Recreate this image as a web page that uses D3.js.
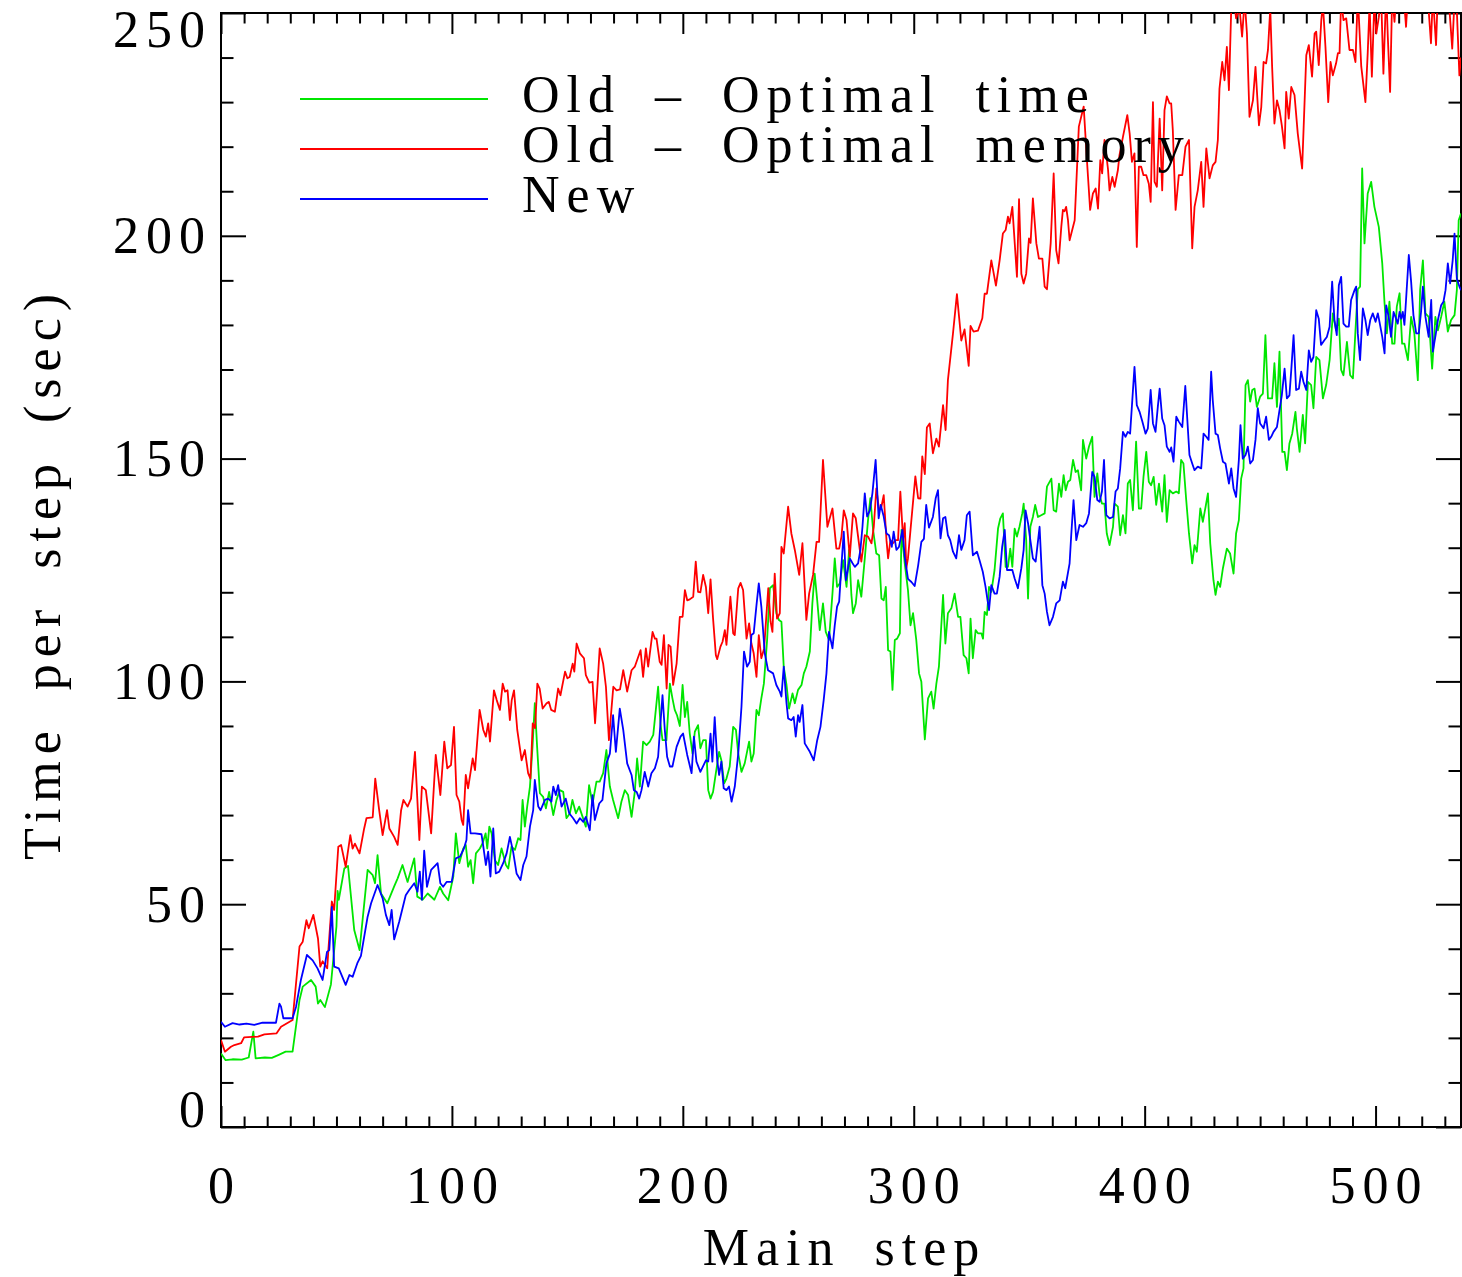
<!DOCTYPE html>
<html>
<head>
<meta charset="utf-8">
<script src="https://cdn.jsdelivr.net/npm/d3@7"></script>
<style>
  body { margin: 0; background: #fff; }
  svg { display: block; }
  .lab { font-family: "Liberation Serif", "Times New Roman", serif; font-size: 52px; fill: #000; letter-spacing: 7px; word-spacing: 14px; }
  .tick line { stroke: #000; stroke-width: 2; }
</style>
</head>
<body>
<div id="chart"></div>
<script>
// values: [main step, time per step in sec]
var greenSeries = [[0,16.5],[2,15],[5,15.2],[9,15.1],[12,15.6],[14,21.4],[15,15.4],[19,15.6],[22,15.5],[25,16.2],[28,16.9],[31,16.9],[34,28.5],[35.4,31.5],[39,33],[41,31.5],[42,27.7],[43,28.5],[45,26.9],[47.6,32],[50,45],[50.5,53],[51,51],[53.4,58],[55,58.6],[57.7,44.2],[60,39.7],[63.5,57.7],[65.7,56.5],[66.7,54.7],[67.8,61],[69.3,52.4],[72,50.2],[75,54],[76.5,55.8],[78.6,58.8],[80.8,55],[83.7,60.3],[85,51.7],[87.3,51],[89.5,52.4],[92.4,51],[94.8,53.9],[96.2,52.4],[98.4,50.9],[100.6,56.2],[101.7,65.9],[103.2,59.2],[104.9,62.5],[106,63.3],[107,58.4],[108.1,59.9],[109.2,54.7],[110.4,61.4],[112.1,62.5],[113.3,63.7],[114.6,65.9],[115.3,62.5],[116.2,67.4],[117.2,65.9],[118.6,59.9],[120,58.8],[121.5,62.5],[123.4,58.8],[124.4,58],[125.8,62.9],[127.3,62.2],[128.7,64.8],[129.7,64.4],[130.6,73.4],[131.6,67.4],[132.6,71.9],[133.8,76.4],[134.9,85.3],[135.9,95.1],[136.9,85.3],[138.1,74.9],[139.5,74.1],[140.7,71.5],[142.1,75.2],[143.9,70],[145.3,73.4],[146.7,75.6],[148.2,75.2],[149.6,69.3],[151.1,70.4],[152.2,73.4],[153.7,70.4],[155.1,71.9],[156.6,69.6],[158,67.4],[159.4,76.7],[160.9,72.6],[162.6,77.5],[164,77.5],[165.5,79.4],[166.9,84.6],[168.4,76.4],[169.8,73.4],[172,69.3],[173.4,73],[174.9,75.6],[176.3,74.5],[177.8,69.6],[179.2,75.2],[180.2,82.7],[181.4,76.4],[182.8,86.5],[184.3,85.7],[185.7,86.5],[187.2,88],[188.3,93.6],[189.3,98.8],[190.3,90.6],[191.2,86.8],[192.9,86.8],[194.4,99.5],[195.5,96.2],[196.5,93.6],[197.5,92.4],[198.7,90],[199.9,99.2],[200.9,92],[201.9,95.4],[203,88.3],[204.2,83.8],[205.2,88.7],[206.6,90.2],[207.6,85],[208.8,86.8],[210,86.8],[211,75.6],[212,73.7],[213.1,75.2],[214.3,79.4],[215.7,84.2],[216.7,82.3],[217.9,77.1],[218.9,78.2],[220.3,80.9],[221.8,89.8],[223,89.1],[224,83.8],[225.4,79.7],[226.8,81.6],[228.7,86.5],[229.7,82],[230.7,83.8],[231.9,93.6],[232.9,92.4],[234,96.2],[235.1,99.5],[236.5,109.3],[237.7,120.9],[239.1,121.6],[240.5,115.3],[241.6,113.8],[242.7,113.4],[243.7,103.3],[244.9,99.2],[246,93.9],[247.5,97.3],[248.5,95.1],[249.9,98.1],[251.4,99.2],[252.4,101.8],[253.5,103.3],[255,106.7],[256.1,117.5],[257.1,124.2],[258.2,118.2],[259.3,111.5],[260.7,117.5],[261.9,111.1],[263.3,109.3],[264.8,119.7],[265.8,127.6],[266.8,121.2],[268,122],[269.4,127.2],[270.9,121.2],[272,129.5],[273,119.4],[273.7,115.3],[274.9,117.5],[275.9,122.7],[277.3,119],[278.8,127.6],[280.2,136.2],[281.2,141.1],[282.4,134],[283.8,128.7],[285,128.3],[286,118.6],[287,118.2],[287.9,121.2],[288.9,107],[289.9,106.7],[290.8,98.1],[291.8,109.3],[292.8,109.6],[294,110.8],[294.7,134],[296.1,126.5],[297.5,120.5],[298.6,112.6],[299.7,115.3],[301.1,109.3],[302.3,101.8],[303.3,99.9],[304.8,87],[306.2,96.2],[307.6,97.7],[308.6,93.9],[309.8,99.5],[310.9,103.3],[312.7,119.4],[313.7,108.5],[314.8,115.3],[316.3,116.4],[317.7,119.7],[319.2,114.5],[320.2,114.5],[321.6,105.9],[322.8,105.2],[323.8,101.8],[324.6,114.1],[325.6,105.2],[326.8,111.5],[327.8,110.8],[329.3,110.8],[330,109.6],[330.7,115.6],[331.7,114.9],[332.6,121.2],[333.6,120.1],[335,125],[336.5,134.3],[337.5,136.6],[338.6,137.7],[339.8,125.7],[340.8,125.7],[341.8,129.8],[342.7,125.7],[343.7,134.3],[344.7,132.5],[345.8,134.7],[347,137.7],[347.6,139.9],[348.7,131.7],[349.5,118.6],[350.5,134.7],[351.6,136.9],[352.6,139.6],[353.8,136.9],[355.2,137.3],[356.7,137.7],[357.7,143.7],[359.6,145.5],[360.6,138.4],[361.7,138.1],[362.9,144.4],[363.9,141.4],[364.9,146.3],[365.8,142.9],[366.8,144.8],[367.8,145.2],[369,149.7],[370.1,147],[371.1,147.4],[372.5,142.9],[373.3,154.2],[374.7,150],[375.9,152.7],[377.3,154.9],[378.3,141.4],[379.5,146.7],[380.5,141.8],[381.5,139.9],[382.6,139.9],[383.6,133.2],[384.8,130.6],[386.3,134.7],[387,139.9],[388.4,139.2],[389.4,132.8],[390.6,137.3],[391.7,133.2],[392.7,144.4],[393.7,145.2],[394.9,138.4],[396.3,153.8],[397.5,138.8],[398.5,138.8],[399.5,145.9],[400.7,151.5],[401.8,144.8],[402.8,144],[403.9,145.9],[405,139.6],[406.2,144.4],[407.6,138.1],[408.6,146.3],[409.6,135.8],[410.8,142.9],[412.2,142.2],[413.7,142.6],[414.8,142.2],[415.8,149.7],[416.8,148.9],[418,140.7],[419.2,133.2],[420.6,126.5],[421.6,130.6],[422.6,129.1],[424.1,138.8],[425.2,135.8],[426.4,139.2],[427.4,142.2],[428.4,131],[429.8,122.7],[430.7,119.4],[431.7,122.4],[432.7,121.2],[433.9,125.4],[435.6,129.8],[437,128.7],[438.5,124.2],[439.6,133.2],[440.8,136.2],[441.8,145.5],[442.8,147.8],[443.7,166.5],[444.7,167.6],[445.7,162.8],[446.6,165.4],[447.6,165.7],[448.6,161.6],[450,163.9],[451.2,164.6],[452.3,177.7],[453.4,163.5],[454.4,163.5],[455.2,163.5],[456.2,171.4],[457.3,161.6],[458.4,174],[459.6,151.5],[460.6,151.5],[461.6,147.4],[462.7,153.4],[463.9,155.6],[465.3,160.5],[465.9,156.8],[467.1,151.5],[468.5,159.8],[469.5,153.4],[470.7,167.2],[472.1,166.5],[473.1,161.3],[474.3,172.8],[475.7,172.1],[477.2,163.5],[478.6,166.5],[480.1,172.1],[481.5,182.6],[482.9,178.8],[484.1,181.4],[485.1,169.9],[486.1,168.7],[487.6,176.2],[489,168.7],[490.2,168],[491.3,178.8],[492.3,188],[493.3,188.6],[494.2,215.1],[495.2,198.3],[496.6,209.5],[498.1,212.1],[499.5,206.5],[501.4,202],[502.9,193.8],[503.9,184.8],[504.9,178.1],[506,185.2],[507.2,175.8],[508.2,175.8],[509.2,184.1],[510.4,187.1],[511.5,175.8],[512.5,175.8],[514,172.1],[515.4,181.8],[516.8,178.1],[518.3,167.6],[519.3,187.8],[520.5,194.5],[521.6,182.6],[523,181.8],[524.5,170.2],[525.9,181.8],[527,178.8],[528.4,181.8],[529.8,185.2],[531.3,178.5],[532.7,181.1],[534.2,182.2],[535.2,187.8],[536,203.5],[537,205]];

var redSeries = [[0,19.5],[1.7,16.9],[4.3,18],[5.8,18.4],[8.7,18.8],[10,20.1],[16,20.3],[18.8,20.8],[24,21],[26,22.5],[31,24],[34,40.5],[35.4,41.6],[37,46.4],[38,44.6],[40,47.6],[42,42.3],[43,36],[44,37.2],[46,35.6],[46.5,39.7],[48,50.6],[49,48.7],[50.8,62.9],[52,63.3],[54,58.4],[56,65.5],[57,62.5],[58,63.6],[60,61.4],[62,67],[63,69.3],[65.7,69.5],[66.8,78.2],[68.5,71.1],[70,65.5],[71.9,71.1],[72.9,67],[75,65.1],[76.5,63.3],[78,71.1],[79,73.4],[80.8,71.9],[82.3,73.7],[84,84.2],[85.9,64.4],[87,76.4],[88.7,75.6],[91,65.9],[93,83.5],[95,74.5],[96.7,86.5],[98,80.5],[99.6,81.2],[100.9,89.8],[102,74.5],[103.2,73],[104.2,68.9],[104.9,67.8],[106,79],[107,76],[109,82.7],[110,80.1],[112,93.6],[113.6,89.1],[114.7,87.6],[115.7,90.6],[116.5,86.5],[118.2,98],[119.4,95.8],[120.8,93.6],[122,99.5],[123,97.7],[124.1,98],[125.1,91.3],[125.9,95.8],[126.9,98],[128.3,89.1],[130.2,82.3],[131.6,84.6],[133,79.4],[134,78.2],[135,90.6],[136,89.5],[137,99.5],[138,98.4],[139.3,93.9],[141,95.1],[142,95.4],[143,93.6],[144.6,93.2],[146,98.4],[147,96.9],[149,102.2],[150,100.7],[151,101],[152.3,104],[153,102.2],[154,108.5],[155.4,106.3],[157.2,105.2],[158,101.4],[159.5,99.7],[160.9,99.9],[162,90.6],[163,98.8],[164,107.4],[165.5,104],[166.7,98.8],[168,86.8],[168.7,91.3],[169.9,98.8],[171.3,98],[172.8,98.2],[174.2,102.5],[175.9,97.7],[177.8,102.5],[179.2,103.3],[181.7,107],[182.8,101],[184,107.4],[185,103.3],[186.9,111.1],[187.9,109.6],[188.6,109.6],[190,104.4],[190.8,103.7],[191.8,110.4],[193,98.4],[193.8,108.2],[194.7,107.8],[195.8,99.2],[197.3,104],[198.7,114.5],[199.9,114.5],[200.9,120.5],[201.9,118.2],[203,118.4],[204.5,119],[205.6,126.9],[206.6,120.1],[207.6,120],[208.8,123.9],[210,121.2],[211,115.3],[212,122.9],[213.1,114.1],[214.3,105.9],[214.9,105],[216.3,107.8],[217.2,108.9],[218.2,111.5],[218.9,108.2],[220.6,119],[221.8,110.8],[222.5,110.4],[224,120.9],[225,122.1],[226.1,120.5],[227.6,109.6],[228.7,113],[229.7,108.5],[230.7,106.3],[231.9,101],[232.9,110.4],[234,105.2],[235.2,107.4],[237,120.9],[238,113.4],[238.8,111.1],[239.8,124.2],[240.8,114.1],[242,115.3],[242.7,130.2],[243.7,128.7],[245.6,139.2],[247,133.2],[248.5,129.5],[250.4,123.9],[251.8,131],[253.5,113.8],[254.7,119.7],[256.4,123.9],[257.9,131.3],[259,131.3],[260.7,149.7],[262.6,134.7],[264.8,138.8],[266.5,129.8],[267.7,129.8],[268.7,132.5],[269.7,138.4],[270.9,136.2],[272.3,128],[273.7,137.7],[274.9,136.6],[275.9,132.5],[277.3,126.9],[278.8,132.8],[280.2,132.5],[281.7,131],[282.7,134.7],[283.8,143.3],[285,138.4],[286,139.2],[287,141.8],[288.2,131.7],[288.9,127.6],[289.9,131.7],[291,131],[292.2,131.7],[293.2,131.7],[294.2,142.6],[295.4,131.7],[296.1,135.5],[296.8,125.4],[297.5,127.6],[298.6,134],[299.7,140.3],[300.7,146],[301.9,141.1],[302.9,141],[303.7,150.5],[304.8,146.5],[305.7,157],[306.9,157.9],[308.3,151.2],[309.8,154.5],[310.9,152.7],[312.7,162],[313.8,156.4],[314.8,167.6],[317,178.1],[318.7,186.9],[320.6,176.5],[322,179],[323.8,170.8],[324.6,179.8],[325.9,178.5],[327.8,178.7],[329.7,181.5],[330.7,187],[331.7,187],[333.6,194.5],[335.6,188.8],[337.2,194.5],[338.6,200.5],[339.8,201.3],[340.8,204.3],[341.5,202.8],[342.7,206.5],[344.7,190.8],[345.6,208.2],[346.6,191.5],[347.6,189.3],[348.7,191.5],[349.9,199.4],[350.6,198.4],[351.6,208.4],[353.1,198.3],[354.2,194.9],[355.7,194.9],[356.7,188.6],[357.7,188],[359.3,198.3],[360.6,214],[361.7,196.8],[362.7,193.8],[363.9,202],[364.6,205.8],[365.3,205.5],[366,206.5],[366.8,203.5],[367.5,199],[369.7,203.5],[371.5,224.5],[373.6,229],[375,217],[376.4,205.8],[377.6,209.5],[378.8,210.6],[379.8,206.1],[380.8,217],[381.6,214],[382.6,221.5],[384.1,215.1],[384.8,210.2],[386,213.2],[387,211],[388.4,214.7],[389.1,218.1],[390.6,222.2],[392.5,227.1],[393.5,223],[394.5,216.6],[395.6,218.5],[396.6,197.5],[397.5,215.5],[398.5,215.5],[399.5,213.6],[400.7,213.6],[401.8,211.7],[402.6,207.6],[403.6,230],[404.3,212.1],[405.3,211],[406.5,226.3],[407.6,210.2],[408.6,228.2],[409.6,231.3],[410.8,229.7],[411.5,229.7],[412.2,223.7],[413.4,205.8],[414.8,213.6],[416.3,213.6],[417.7,220],[419.2,221.5],[420.6,197.2],[421.6,206.5],[423,210.2],[424.5,216.6],[425.5,206.5],[426.7,219.6],[428.1,212.9],[429.5,215.8],[430.7,216.6],[431.7,221.5],[432.4,233],[433.6,239],[434.6,234.9],[435.6,242.4],[436.5,232.7],[437.5,251],[438.9,252],[439.6,248.8],[441.1,251],[442.2,244.7],[443.3,253],[444.3,245.4],[445.4,226.7],[446.9,230.4],[448,237.9],[449.5,224.8],[450.5,228.9],[451.5,239],[452.6,238.7],[453.4,241.7],[454.4,251],[455.2,238],[456.2,225.2],[457.3,230.4],[458.4,228.2],[459.4,224.8],[460.6,219.6],[461.3,232.3],[462.4,226.3],[463.5,233.4],[464.9,231.6],[466.3,223],[468.2,215.1],[470,240.5],[471.1,242.8],[472.5,235.7],[473.6,245.4],[474.3,245.8],[475.4,238.3],[476.5,248.4],[477.2,252],[478.3,242.4],[479.5,230],[480.5,239],[481.5,236],[482.9,238.7],[483.7,241],[484.4,241],[485.1,253],[486.1,248.4],[487.3,248.8],[488.7,241.7],[490.2,241.7],[491.3,239],[492.3,254],[493.8,238],[495.6,230],[496.6,241],[497.4,252],[498.4,235.7],[499.5,253],[500.3,245.4],[501.4,249],[502.4,254],[503.4,236.4],[504.6,255],[505.3,244.7],[506.3,232.3],[507.2,254],[508.2,248],[509.2,256],[511,262],[513.2,246.9],[514,254],[516,260],[518,257],[520,263],[522,258],[524,243.2],[524.8,254],[526.2,242.8],[527,255],[529,260],[531,258],[533.2,242],[534.2,253],[535.2,250.5],[536.3,236],[537,240]];

var blueSeries = [[0,23.6],[1.7,22.5],[5,23.3],[8,23],[11,23.2],[14.4,22.9],[18,23.4],[23.8,23.4],[25.3,27.7],[26,27],[27,24.4],[31,24.4],[32.5,27],[34.6,33],[37.2,38.6],[39.7,37.4],[41.8,35.6],[44,33],[45.9,39.3],[46.9,39.7],[48,49.4],[49,36],[51,35.6],[54,31.9],[55.6,34.1],[57,33.7],[59,36.7],[60.6,38.4],[63.5,47.2],[65,50.2],[67.8,54.3],[70,51.3],[71.4,47.6],[72.9,45.3],[73.9,48.7],[75,42.1],[77.2,46.1],[80,52],[81.5,53.2],[83.7,54.7],[85.1,52.8],[86.1,57.3],[87,51],[88,62],[89.2,53.9],[91,57.7],[93.8,59.2],[95,54.7],[96.2,53.9],[97.7,55],[99.9,55],[101.7,60.3],[103.5,60.7],[105.2,62.5],[106.3,64.4],[107,71.1],[108.1,65.9],[110,65.9],[112.8,65.7],[113.6,62.9],[114.7,58.8],[115.7,61.8],[116.7,56.2],[117.9,67],[119,56.9],[120.5,57.3],[122.2,59.2],[123.7,61.4],[125.1,65.1],[126.5,61.8],[128,56.9],[129.7,55.4],[130.9,58.8],[132.3,60.7],[133.8,67.4],[135.2,71.1],[135.9,77.9],[137.4,71.9],[138.4,71.1],[140.3,73.4],[141.7,73.7],[143.1,73],[143.9,76.4],[145,74.5],[146,76.7],[147.5,71.9],[149.3,73.7],[150.8,70.4],[152.5,69.3],[154,68.1],[155.4,69.3],[156.9,68.5],[158,69.6],[159.7,66.6],[160.9,74.5],[161.9,68.9],[163.8,72.6],[165.2,73.4],[166.9,81.6],[168.4,83.8],[169.8,92.4],[171,84.2],[172.7,93.9],[174.2,89.1],[175.9,81.6],[177.8,79],[178.8,75.6],[180,75.2],[181.1,73.7],[182.1,75.6],[183.5,79.7],[185,76.4],[186.4,79.4],[187.9,80.5],[189.3,83.1],[190,88.3],[191.2,96.9],[192.2,89.1],[193.2,83.1],[194.4,80.9],[195.5,80.9],[197.3,85.3],[199,87.6],[200.1,88.3],[201.9,83.5],[203.8,79.4],[204.8,87.6],[205.9,82],[207.6,79.7],[210,82.3],[211,82],[212,88.3],[212.8,82],[213.8,92],[214.9,82.3],[215.7,79],[216.7,82],[217.7,76],[218.9,75.6],[220,76.4],[221.1,73],[222.5,76.4],[224,83.8],[225.4,94.3],[226.5,106.7],[227.8,103.3],[229,104.4],[229.7,110.4],[230.7,110.8],[231.9,117.1],[232.9,122],[234,116.8],[235.5,106.3],[236.9,102.5],[239.1,101.8],[240.5,99.2],[242,97.7],[242.7,96.6],[243.7,103.3],[244.9,95.1],[245.6,91.7],[247,91.3],[248,92],[248.9,87.6],[249.9,92.4],[250.6,90.9],[251.8,94.7],[252.8,86.1],[255,84.2],[256.7,82.3],[258.2,86.8],[259.6,89.8],[261,95.8],[262.2,101.8],[263.3,111.1],[264.8,107.4],[265.8,112.6],[266.8,116.8],[267.7,117.9],[268.7,126.1],[269.7,133.6],[270.6,122.7],[271.3,124.6],[272.3,127.6],[273.5,126.5],[274.5,125.7],[275.9,126.5],[276.9,129.5],[277.8,134.7],[278.8,142.2],[279.8,137],[281,138.4],[282.1,142.2],[283.5,149.7],[284.8,136.6],[285.7,139.6],[287,137],[288.2,133.2],[289.3,132.8],[290.5,130.2],[291.3,133.6],[292.5,129.5],[293.6,130.2],[295.1,134],[296.1,128],[297.5,123],[299,122.3],[300.4,121.4],[301.9,126],[303.3,131.3],[304.4,132],[305.4,139.6],[306.6,134.5],[308.3,136.9],[309.5,141.1],[310.5,142.9],[311.6,132.1],[312.7,136.6],[313.7,136.9],[314.8,132.8],[315.8,131.7],[317,129.1],[318.4,127.6],[319.6,132.8],[320.6,129.5],[322,131.7],[323,137.3],[324.2,138.1],[325.6,128.3],[327.4,129.1],[328.5,127.2],[329.9,124.6],[331.1,121.2],[332.6,116],[333.6,121.6],[335,119.7],[336,119.7],[337.2,123.5],[338.3,130.2],[339.4,134],[340.4,125],[341.5,125],[342.7,125],[343.7,123.1],[345.1,120.9],[346.6,125.4],[347.6,129.5],[348.4,138.4],[349.5,135.5],[350.6,131.3],[351.6,127.6],[352.8,126.9],[354.5,134.7],[355.7,121.6],[356.7,119.7],[357.7,115.6],[358.8,112.6],[360.3,114.5],[361.7,117.5],[363.2,118.2],[364.6,122.4],[365.6,120.9],[367.5,126.5],[368.2,132.8],[369.2,140.7],[370.4,131.7],[371.8,135.1],[373.3,134.7],[374.7,135.5],[375.9,137.7],[377.3,147],[378.3,145.9],[379.5,140.7],[380.5,140.3],[381.5,142.6],[382.4,149.7],[383.4,137.3],[384.8,136.6],[386.3,136.9],[387.4,142.6],[388.4,143.3],[389.4,147.8],[390.6,156],[391.7,154.9],[392.7,156],[393.7,155.6],[395.6,170.6],[396.6,162],[397.8,160.5],[399,158.3],[400.4,155.6],[401.4,156.8],[402.6,165.4],[403.6,157.9],[404.7,156],[405.7,161.6],[406.5,165.7],[407.6,159],[408.6,157.5],[409.6,152.7],[410.8,151.5],[411.5,152.5],[412.5,149.3],[413.7,159.4],[414.8,158.3],[416.3,157.1],[417.6,166.3],[419.4,150.8],[420.6,148.9],[421.6,147.4],[423,148.2],[424.5,147.8],[425.5,155.6],[426.7,154.9],[427.7,154.2],[428.8,169.5],[429.5,163.1],[430.7,155.6],[431.7,155.3],[432.7,152.3],[433.9,149.3],[435,148.9],[436.5,144.4],[437.5,147.8],[438.5,143.3],[439.6,141.4],[440.8,149.7],[441.5,157.5],[442.5,150],[443.7,150.8],[444.7,152.7],[445.7,148.9],[446.9,149.7],[448,154.2],[449,161.3],[450,157.9],[451.5,156.8],[452.6,159.4],[453.8,154.2],[454.8,154.9],[455.8,156],[457.3,157.1],[458.4,160.9],[459.4,164.2],[460.6,170.2],[461.6,163.5],[462.7,164.2],[463.5,169.9],[464.5,177.7],[465.6,165.4],[466.8,165.7],[467.8,169.5],[468.8,167.2],[470,165.4],[471.1,174.3],[472.1,171.7],[473.1,172.8],[474.3,183.3],[475.4,181.4],[476.4,175.5],[477.9,176.6],[478.9,177.3],[480.1,179.6],[481.2,189.7],[482.2,181.1],[483.2,177.7],[484.1,188.9],[485.1,190.8],[486.1,180.3],[487.3,179.6],[488.4,179.6],[489.4,185.6],[490.9,187.8],[491.6,188.6],[492.3,178.1],[493.3,172.1],[494.5,183.7],[495.6,181.1],[496.6,177.7],[497.7,181.1],[498.8,182.6],[500,180.7],[501,182.6],[501.7,180.7],[502.9,177.3],[503.9,173.6],[504.6,184.4],[505.7,181.8],[506.7,177.3],[507.8,182.9],[508.6,181.8],[509.6,180.3],[510.4,182.9],[511.1,181.4],[511.8,182.9],[512.5,180],[513.2,185.6],[514.4,195.7],[515.4,189.7],[516.4,182.2],[517.6,178.1],[518.7,178.1],[519.7,182.9],[520.5,188.6],[521.6,181.8],[523,177.3],[524.1,185.6],[524.8,174],[526,177.7],[527,181.1],[528.4,184.4],[529.4,185.2],[530.3,187.8],[531.3,193.8],[532.3,189.3],[533.4,194.5],[534.2,200.5],[535.2,190.4],[536.3,188.6],[537,187.8]];

var seriesNames = ["Old \u2013 Optimal time", "Old \u2013 Optimal memory", "New"];
var seriesColors = ["#00e600", "#ff0000", "#0000ff"];

var xMajor = [0, 100, 200, 300, 400, 500];
var yMajor = [0, 50, 100, 150, 200, 250];
var xDomain = [0, 537];
var yDomain = [0, 250];

var width = 1462, height = 1277;
var plotLeft = 221, plotRight = 1461, plotTop = 13, plotBottom = 1127;
var ls = 7; // letter spacing used by all labels

var x = d3.scaleLinear().domain(xDomain).range([plotLeft, plotRight]);
var y = d3.scaleLinear().domain(yDomain).range([plotBottom, plotTop]);

var svg = d3.select("#chart").append("svg")
    .attr("width", width)
    .attr("height", height);

svg.append("clipPath").attr("id", "plotclip")
    .append("rect")
    .attr("x", plotLeft).attr("y", plotTop)
    .attr("width", plotRight - plotLeft).attr("height", plotBottom - plotTop);

// minor ticks every 10
var xMinor = d3.range(0, 540, 10).filter(function (d) { return d % 100 !== 0; });
var yMinor = d3.range(0, 251, 10).filter(function (d) { return d % 50 !== 0; });

function tickAxis(axisFn, scale, vals, size, tx, ty) {
    svg.append("g")
        .attr("transform", "translate(" + tx + "," + ty + ")")
        .call(axisFn(scale).tickValues(vals).tickSize(size).tickFormat(""))
        .call(function (g) { g.select(".domain").remove(); });
}

tickAxis(d3.axisBottom, x, xMajor, -21, 0, plotBottom);
tickAxis(d3.axisBottom, x, xMinor, -10.5, 0, plotBottom);
tickAxis(d3.axisTop, x, xMajor, -21, 0, plotTop);
tickAxis(d3.axisTop, x, xMinor, -10.5, 0, plotTop);
tickAxis(d3.axisLeft, y, yMajor, -25, plotLeft, 0);
tickAxis(d3.axisLeft, y, yMinor, -12.5, plotLeft, 0);
tickAxis(d3.axisRight, y, yMajor, -25, plotRight, 0);
tickAxis(d3.axisRight, y, yMinor, -12.5, plotRight, 0);

svg.append("rect")
    .attr("x", plotLeft).attr("y", plotTop)
    .attr("width", plotRight - plotLeft).attr("height", plotBottom - plotTop)
    .attr("fill", "none")
    .attr("stroke", "#000")
    .attr("stroke-width", 2);

// tick labels
svg.selectAll(".xlab")
    .data(xMajor)
    .enter().append("text")
    .attr("class", "lab xlab")
    .attr("x", function (d) { return x(d) + ls / 2; })
    .attr("y", 1203)
    .attr("text-anchor", "middle")
    .text(function (d) { return d; });

svg.selectAll(".ylab")
    .data(yMajor)
    .enter().append("text")
    .attr("class", "lab ylab")
    .attr("x", 205 + ls)
    .attr("y", function (d) {
        if (d === 0) return plotBottom;
        if (d === 250) return plotTop + 34;
        return y(d) + 17.5;
    })
    .attr("text-anchor", "end")
    .text(function (d) { return d; });

// axis titles
svg.append("text")
    .attr("class", "lab")
    .attr("x", (plotLeft + plotRight) / 2 + ls / 2)
    .attr("y", 1265)
    .attr("text-anchor", "middle")
    .text("Main step");

svg.append("text")
    .attr("class", "lab")
    .attr("transform", "translate(60," + ((plotTop + plotBottom) / 2 + ls / 2) + ") rotate(-90)")
    .attr("text-anchor", "middle")
    .text("Time per step (sec)");

// lines
var line = d3.line()
    .x(function (d) { return x(d[0]); })
    .y(function (d) { return y(d[1]); });

var allSeries = [greenSeries, redSeries, blueSeries];

svg.append("g")
    .attr("clip-path", "url(#plotclip)")
    .selectAll("path")
    .data(allSeries)
    .enter().append("path")
    .attr("d", line)
    .attr("fill", "none")
    .attr("stroke", function (d, i) { return seriesColors[i]; })
    .attr("stroke-width", 1.8)
    .attr("stroke-linejoin", "round");

// legend
var legend = svg.append("g");
seriesNames.forEach(function (name, i) {
    var ly = 99 + i * 50;
    legend.append("line")
        .attr("x1", 300).attr("x2", 488)
        .attr("y1", ly).attr("y2", ly)
        .attr("stroke", seriesColors[i])
        .attr("stroke-width", 1.8);
    legend.append("text")
        .attr("class", "lab")
        .attr("x", 522)
        .attr("y", ly + 13)
        .text(name);
});
</script>
</body>
</html>
